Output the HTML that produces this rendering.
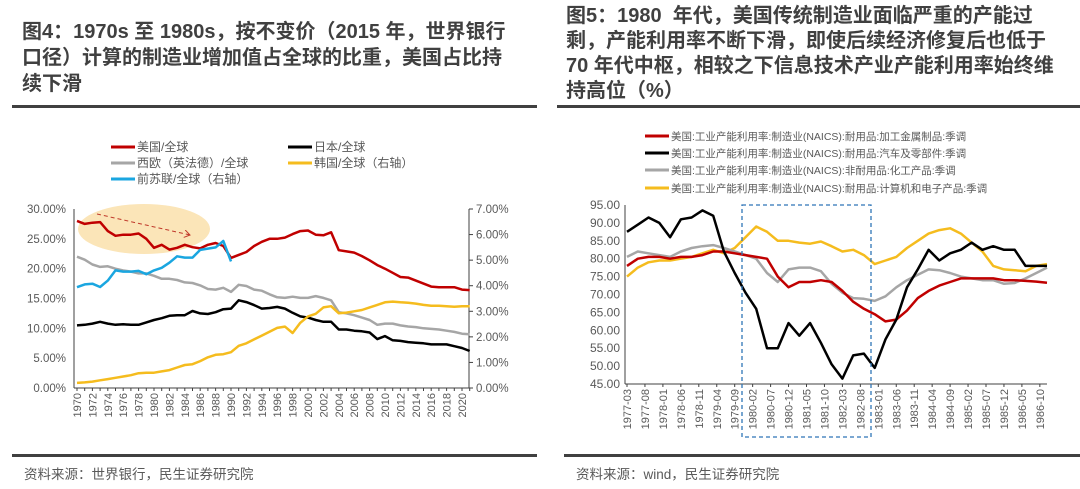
<!DOCTYPE html>
<html><head><meta charset="utf-8">
<style>
html,body{margin:0;padding:0;background:#fff;}
body{width:1080px;height:489px;overflow:hidden;position:relative;font-family:"Liberation Sans","Noto Sans CJK SC",sans-serif;}
.title{position:absolute;font-weight:bold;font-size:20px;line-height:26px;color:#404040;white-space:nowrap;font-family:"Liberation Sans","Noto Sans CJK SC",sans-serif;}
.rule{position:absolute;height:3px;background:#404040;}
.src{position:absolute;font-size:13.5px;color:#595959;}
svg{position:absolute;left:0;top:0;}
svg text{font-family:"Liberation Sans","Noto Sans CJK SC",sans-serif;fill:#595959;}
</style></head>
<body>
<div class="title" style="left:22px;top:19px;">图4：1970s 至 1980s，按不变价（2015 年，世界银行<br>口径）计算的制造业增加值占全球的比重，美国占比持<br>续下滑</div>
<div class="title" style="left:566px;top:4px;line-height:25px;">图5：1980&nbsp; 年代，美国传统制造业面临严重的产能过<br>剩，产能利用率不断下滑，即使后续经济修复后也低于<br>70 年代中枢，相较之下信息技术产业产能利用率始终维<br>持高位（%）</div>
<div class="rule" style="left:12px;top:105px;width:525px;"></div>
<div class="rule" style="left:557px;top:105px;width:523px;"></div>
<div class="rule" style="left:12px;top:454px;width:525px;"></div>
<div class="rule" style="left:564px;top:454px;width:516px;"></div>
<div class="src" style="left:24px;top:463px;">资料来源：世界银行，民生证券研究院</div>
<div class="src" style="left:576px;top:463px;">资料来源：wind，民生证券研究院</div>
<svg id="svg" width="1080" height="489"></svg>
<script>
// ---- Left chart data ----
const leftYears = [];
for (let y = 1970; y <= 2021; y++) leftYears.push(y);
const usShare = [28,27.5,27.7,27.8,26.3,25.5,25.7,25.7,25.9,25,23.5,24,23.2,23.5,24,23.6,23.4,24,24.3,23.8,21.8,22.3,22.8,23.8,24.5,25,25,25.2,25.8,26.3,26.4,25.7,25.6,26.1,23.1,22.9,22.7,22.1,21.4,20.6,20,19.3,18.6,18.5,18,17.5,17,16.9,16.9,16.9,16.5,16.4];
const japanShare = [10.5,10.6,10.8,11.1,10.8,10.6,10.7,10.6,10.6,11,11.4,11.7,12.1,12.2,12.2,12.9,12.5,12.4,12.7,13.2,13.3,14.7,14.4,13.9,13.3,13.4,13.6,13.3,12.6,12,11.8,11.4,11.1,11.1,9.8,9.8,9.6,9.5,9.3,8.2,8.7,8,7.9,7.7,7.6,7.5,7.3,7.3,7.3,7,6.7,6.2];
const weuShare = [22,21.5,20.7,20.3,20.4,20,19.7,19.5,19.2,19.2,18.8,18.3,18.3,18.1,17.7,17.6,17.2,16.6,16.5,16.8,16.1,17.3,17.1,16.5,16.3,15.7,15.2,15.1,15.3,15.1,15.1,15.4,15.1,14.7,12.7,12.5,12.2,11.8,11.4,10.6,10.8,10.8,10.5,10.3,10.2,10,9.9,9.8,9.6,9.4,9.1,9];
const koreaShare = [0.2,0.22,0.25,0.3,0.35,0.4,0.45,0.5,0.58,0.6,0.6,0.65,0.7,0.8,0.9,0.93,1.05,1.2,1.3,1.32,1.4,1.65,1.75,1.9,2.05,2.2,2.35,2.4,2.15,2.55,2.8,2.9,3.15,3.2,2.92,2.95,3,3.05,3.15,3.25,3.35,3.38,3.35,3.33,3.3,3.25,3.22,3.22,3.2,3.18,3.2,3.2];
const ussrShare = [3.94,4.05,4.08,3.95,4.2,4.6,4.55,4.55,4.58,4.45,4.6,4.7,4.9,5.15,5.1,5.1,5.4,5.45,5.5,5.75,4.95];
const leftTicks = ["0.00%","5.00%","10.00%","15.00%","20.00%","25.00%","30.00%"];
const rightTicks = ["0.00%","1.00%","2.00%","3.00%","4.00%","5.00%","6.00%","7.00%"];

// ---- Right chart data (quarterly from 1977-03) ----
const capRed = [78,80,80.5,80.5,80,80.5,80.5,81,82,82,81.5,81,80.5,80,75,72,73.5,73.5,74,73.5,71,68,66,64.5,62.5,63,65.5,69,71,72.5,73.5,74.5,74.5,74.5,74.5,74,74,73.8,73.6,73.3];
const capBlack = [87.5,89.5,91.5,90,86,91,91.5,93.5,92,82,76,70.5,66,55,55,62,58.5,62,56.5,50.5,46.5,53,53.5,49.5,57.5,63,72,77,82.5,79.5,81.5,82.5,84.5,82.5,83.5,82.5,82.5,78,78,78];
const capGray = [80.5,82,81.5,81,80.5,82,83,83.5,83.8,83,82,81,80,76,73.5,77,77.5,77.5,76.5,73,70.5,69,68.8,68.2,69.5,72,74,75.5,77,76.8,76,75,74.5,74,74,73,73.2,74.5,76,77.5];
const capYellow = [75,77.5,79,79.5,79.5,80,80.5,81.5,82.5,81.5,83,86,89,87.5,85,85,84.5,84.2,84.8,83.5,82,82.5,81,78.5,79.5,80.5,83,85,87,88,88.5,87,84.5,82,78,77,76.8,76.5,78,78.5];
const capTicks = ["45.00","50.00","55.00","60.00","65.00","70.00","75.00","80.00","85.00","90.00","95.00"];

const NS = "http://www.w3.org/2000/svg";
const svg = document.getElementById('svg');
function mk(tag, attrs, parent) {
  const e = document.createElementNS(NS, tag);
  for (const k in attrs) e.setAttribute(k, attrs[k]);
  (parent || svg).appendChild(e);
  return e;
}

const L = {x0: 77, dx: 7.7, top: 209, bot: 388, left: 74, right: 469};
const lx = i => L.x0 + i * L.dx;
const lyL = v => L.bot - v / 30 * (L.bot - L.top);
const lyR = v => L.bot - v / 7 * (L.bot - L.top);

const ell = mk('ellipse', {cx: 144, cy: 229, rx: 66, ry: 25, fill: '#fbe5b8'});


const defs = mk('defs', {});
const mrk = mk('marker', {id: 'ah', markerWidth: 8, markerHeight: 8, refX: 6, refY: 4, orient: 'auto'}, defs);
mk('path', {d: 'M0,0 L6,4 L0,8', fill: 'none', stroke: '#c0392b', 'stroke-width': 1}, mrk);
const arr = mk('line', {x1: 97, y1: 214, x2: 190, y2: 235, stroke: '#c0392b', 'stroke-width': 1, 'stroke-dasharray': '4,3', 'marker-end': 'url(#ah)'});



const la1 = mk('line', {x1: L.left, y1: L.top, x2: L.left, y2: L.bot, stroke: '#404040', 'stroke-width': 1});


const la2 = mk('line', {x1: L.right, y1: L.top, x2: L.right, y2: L.bot, stroke: '#404040', 'stroke-width': 1});


const la3 = mk('line', {x1: L.left, y1: L.bot, x2: L.right, y2: L.bot, stroke: '#404040', 'stroke-width': 1});


leftTicks.forEach((t, i) => {
  const y = lyL(i * 5);
  const tx = mk('text', {x: 66, y: y + 4, 'font-size': 11.5, 'text-anchor': 'end'});
  tx.textContent = t;
  
  
});
rightTicks.forEach((t, i) => {
  const y = lyR(i);
  mk('line', {x1: L.right, y1: y, x2: L.right + 4, y2: y, stroke: '#404040'});
  const tx = mk('text', {x: 476, y: y + 4, 'font-size': 11.5});
  tx.textContent = t;
  
  
});
leftYears.forEach((yr, i) => {
  mk('line', {x1: lx(i), y1: L.bot, x2: lx(i), y2: L.bot + 3, stroke: '#404040'});
  if (i % 2 === 0) {
    const tx = mk('text', {x: 0, y: 0, 'font-size': 11, 'text-anchor': 'end', transform: `translate(${lx(i) + 4},${L.bot + 5}) rotate(-90)`});
    tx.textContent = yr;
    
    
  }
});
function series(vals, xf, yf, color, name, w) {
  const d = vals.map((v, i) => (i ? 'L' : 'M') + xf(i).toFixed(1) + ',' + yf(v).toFixed(1)).join('');
  const p = mk('path', {d: d, fill: 'none', stroke: color, 'stroke-width': w || 2.5, 'stroke-linejoin': 'round'});
  
  
}
series(weuShare, lx, lyL, '#a6a6a6', 'series-west-europe');
series(japanShare, lx, lyL, '#000000', 'series-japan');
series(koreaShare, lx, lyR, '#f5bc1e', 'series-korea');
series(usShare, lx, lyL, '#c00000', 'series-usa');
series(ussrShare, lx, lyR, '#1aa6e0', 'series-ussr');

function legend(x, y, color, label, name, fs) {
  const g = mk('g', {});
  
  
  mk('line', {x1: x, y1: y, x2: x + 24, y2: y, stroke: color, 'stroke-width': 3}, g);
  const t = mk('text', {x: x + 26, y: y + 4, 'font-size': fs, fill: '#404040'}, g);
  t.textContent = label;
}
legend(111, 147, '#c00000', '美国/全球', 'legend-usa', 12);
legend(288, 147, '#000000', '日本/全球', 'legend-japan', 12);
legend(111, 163, '#a6a6a6', '西欧（英法德）/全球', 'legend-west-europe', 12);
legend(288, 163, '#f5bc1e', '韩国/全球（右轴）', 'legend-korea', 12);
legend(111, 179, '#1aa6e0', '前苏联/全球（右轴）', 'legend-ussr', 12);

const R = {x0: 627, dm: 3.59, top: 205, bot: 384, left: 625, right: 1047};
const rxq = i => R.x0 + i * 3 * R.dm;
const rxm = m => R.x0 + m * R.dm;
const ry = v => R.bot - (v - 45) / 50 * (R.bot - R.top);
const ra1 = mk('line', {x1: R.left, y1: R.top, x2: R.left, y2: R.bot, stroke: '#404040'});


const ra2 = mk('line', {x1: R.left, y1: R.bot, x2: R.right, y2: R.bot, stroke: '#404040'});


capTicks.forEach((t, i) => {
  const tx = mk('text', {x: 620, y: ry(45 + i * 5) + 4, 'font-size': 12, 'text-anchor': 'end'});
  tx.textContent = t;
  
  
});
for (let m = 0; m <= 115; m += 5) {
  const yr = 1977 + Math.floor((2 + m) / 12);
  const mo = (2 + m) % 12 + 1;
  mk('line', {x1: rxm(m), y1: R.bot, x2: rxm(m), y2: R.bot + 3, stroke: '#404040'});
  const tx = mk('text', {x: 0, y: 0, 'font-size': 11, 'text-anchor': 'end', transform: `translate(${rxm(m) + 4},${R.bot + 5}) rotate(-90)`});
  tx.textContent = yr + '-' + String(mo).padStart(2, '0');
  
  
}
series(capYellow, rxq, ry, '#f5bc1e', 'series-computer-electronics');
series(capGray, rxq, ry, '#a6a6a6', 'series-chemicals');
series(capRed, rxq, ry, '#c00000', 'series-fabricated-metal');
series(capBlack, rxq, ry, '#000000', 'series-motor-vehicles');
const box = mk('rect', {x: 742, y: 205, width: 129, height: 232, fill: 'none', stroke: '#2e75b6', 'stroke-width': 1.3, 'stroke-dasharray': '4,3'});


legend(645, 136, '#c00000', '美国:工业产能利用率:制造业(NAICS):耐用品:加工金属制品:季调', 'legend-fabricated-metal', 10.5);
legend(645, 153, '#000000', '美国:工业产能利用率:制造业(NAICS):耐用品:汽车及零部件:季调', 'legend-motor-vehicles', 10.5);
legend(645, 170, '#a6a6a6', '美国:工业产能利用率:制造业(NAICS):非耐用品:化工产品:季调', 'legend-chemicals', 10.5);
legend(645, 188, '#f5bc1e', '美国:工业产能利用率:制造业(NAICS):耐用品:计算机和电子产品:季调', 'legend-computer-electronics', 10.5);
</script>
</body></html>
